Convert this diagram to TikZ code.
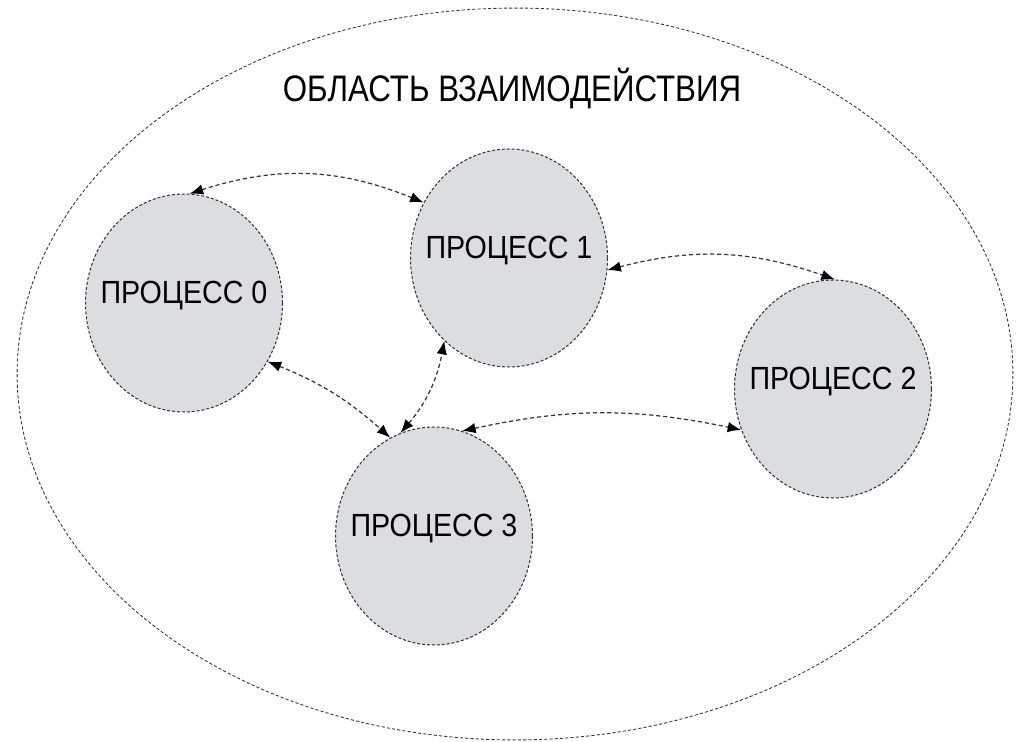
\documentclass[tikz,border=0pt]{standalone}
\usepackage{fontspec}
\setmainfont{Liberation Sans}
\usepackage{graphicx}
\usetikzlibrary{shapes.geometric,arrows.meta}
\definecolor{procgray}{RGB}{220,221,225}
\definecolor{linegray}{RGB}{55,55,55}
\newcommand{\proclabel}[1]{\makebox[0pt]{\scalebox{1}[1.12]{ПРОЦЕСС #1}}}

\begin{document}
\begin{tikzpicture}[x=0.02cm, y=-0.02cm,
  every node/.style={font=\fontsize{16.3}{18}\selectfont},
  proc/.style={ellipse, draw=linegray, fill=procgray, line width=0.6pt,
    dash pattern=on 1.7pt off 1.1pt, minimum width=3.94cm, minimum height=4.36cm,
    inner sep=0pt, text height=13pt, text depth=12.4pt},
  link/.style={draw=linegray, line width=0.7pt, dash pattern=on 2.4pt off 1.6pt,
    {Latex[length=2.7mm,width=2.1mm,black]}-{Latex[length=2.7mm,width=2.1mm,black]}}]
  \useasboundingbox (0,0) rectangle (1021,742);

  \node[ellipse, draw=linegray, line width=0.5pt, dash pattern=on 1.8pt off 1.2pt,
    minimum width=19.92cm, minimum height=14.64cm, inner sep=0pt] (area) at (515,374) {};
  \node[anchor=base, font=\fontsize{17.8}{20}\selectfont] (title) at (512,102)
    {\scalebox{1}[1.18]{ОБЛАСТЬ ВЗАИМОДЕЙСТВИЯ}};

  \node[proc] (p0) at (184,303) {\proclabel{0}};
  \node[proc] (p1) at (509,258) {\proclabel{1}};
  \node[proc] (p2) at (833,389) {\proclabel{2}};
  \node[proc] (p3) at (434,536) {\proclabel{3}};

  \draw[link] (p0.87) to[bend left=20] (p1.147);
  \draw[link] (p1.353) to[bend left=17] (p2.89);
  \draw[link] (p0.325) to[bend left=10] (p3.114);
  \draw[link] (p3.108) to[bend right=15] (p1.232);
  \draw[link] (p3.75) to[bend left=12] (p2.204);
\end{tikzpicture}
\end{document}
